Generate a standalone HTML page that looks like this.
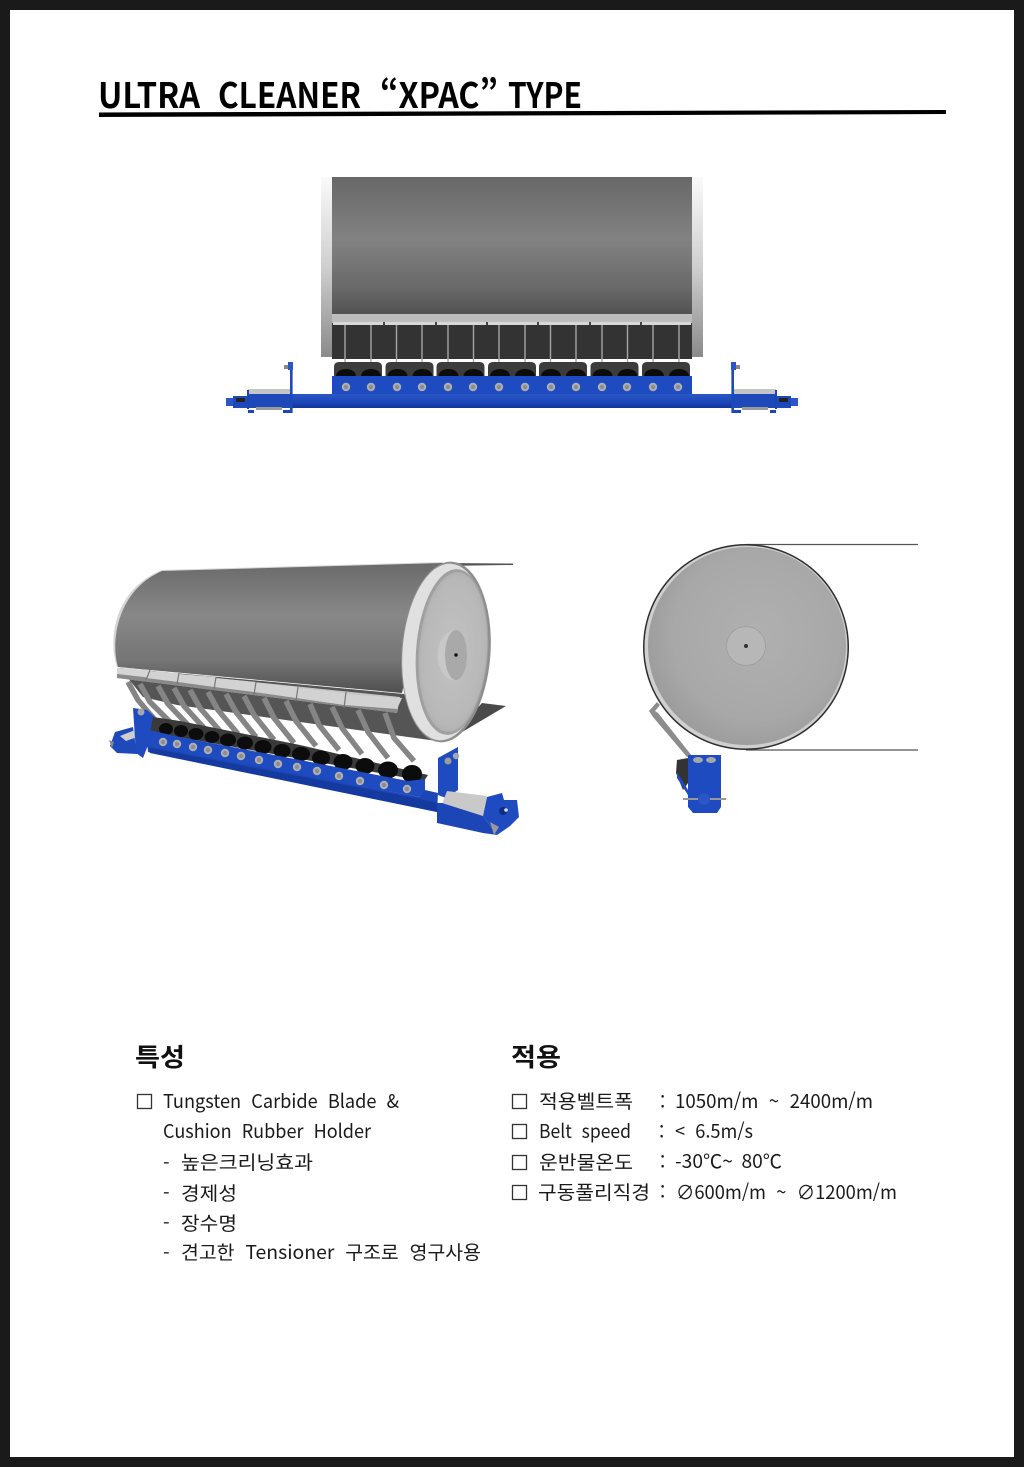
<!DOCTYPE html>
<html lang="ko"><head><meta charset="utf-8"><title>ULTRA CLEANER XPAC TYPE</title>
<style>
html,body{margin:0;padding:0;background:#fff}
svg{display:block}
text{font-family:"Liberation Sans","Noto Sans CJK KR",sans-serif;fill:#111}
.t{font-family:"Noto Sans CJK KR",sans-serif;font-size:35px;font-weight:700;fill:#000}
.k{font-family:"Noto Sans CJK KR","Liberation Sans",sans-serif;font-size:19px;font-weight:400;fill:#1a1a1a}
.h{font-family:"Noto Sans CJK KR",sans-serif;font-size:25px;font-weight:700;fill:#111}
.box{fill:#fff;stroke:#333;stroke-width:1.3}
</style></head><body>
<svg width="1024" height="1467" viewBox="0 0 1024 1467" xmlns="http://www.w3.org/2000/svg">
<defs>
<linearGradient id="dr" x1="0" y1="0" x2="0" y2="1"><stop offset="0" stop-color="#686868"/><stop offset=".45" stop-color="#828282"/><stop offset=".8" stop-color="#686868"/><stop offset="1" stop-color="#505050"/></linearGradient>
<linearGradient id="rim" x1="0" y1="0" x2="0" y2="1"><stop offset="0" stop-color="#fafafa"/><stop offset=".5" stop-color="#cfcfcf"/><stop offset="1" stop-color="#8a8a8a"/></linearGradient>
<linearGradient id="bl" x1="0" y1="0" x2="0" y2="1"><stop offset="0" stop-color="#2a56c8"/><stop offset=".6" stop-color="#1c46b8"/><stop offset="1" stop-color="#12339a"/></linearGradient>
<linearGradient id="dp" x1="0" y1="0" x2="0" y2="1"><stop offset="0" stop-color="#6a6a6a"/><stop offset=".4" stop-color="#888"/><stop offset=".75" stop-color="#757575"/><stop offset="1" stop-color="#4f4f4f"/></linearGradient>
<radialGradient id="fc" cx=".5" cy=".5" r=".6"><stop offset="0" stop-color="#c2c2c2"/><stop offset=".75" stop-color="#b8b8b8"/><stop offset="1" stop-color="#a6a6a6"/></radialGradient>
<radialGradient id="sd" cx=".55" cy=".45" r=".6"><stop offset="0" stop-color="#b0b0b0"/><stop offset=".7" stop-color="#a8a8a8"/><stop offset="1" stop-color="#9a9a9a"/></radialGradient>
<g id="holder">
<path d="M0,377V367q0-5 5-5H43q5,0 5,5V377Z" fill="#3c3c3c"/>
<ellipse cx="12" cy="376" rx="10" ry="7" fill="#0c0c0c"/><ellipse cx="37" cy="376" rx="10" ry="7" fill="#0c0c0c"/>
</g>
<g id="bolt"><circle r="4.200" fill="#adafb2"/><circle r="2.200" fill="#8b8d90"/></g>
<g id="endt">
<rect x="248" y="389" width="42" height="6" fill="#c5c5c5"/>
<rect x="292" y="394" width="45" height="14" fill="url(#bl)"/>
<rect x="247" y="394" width="44" height="14" fill="#1e49bb"/>
<rect x="247" y="390" width="2" height="19" fill="#1c46b8"/>
<rect x="226" y="398" width="8" height="8" fill="#2a56c8"/><rect x="233" y="396" width="14" height="12" fill="#1e49bb"/>
<rect x="236" y="398" width="9" height="4" fill="#222"/>
<rect x="290" y="364" width="2.6" height="49" fill="#1e49bb"/>
<rect x="284" y="365" width="9" height="4" fill="#888"/><rect x="288" y="362" width="5" height="8" fill="#2a56c8"/>
<rect x="256" y="407" width="26" height="3" fill="#999"/>
<path d="M248,410h6v3h-6zM283,410h7v3h-7z" fill="#1c46b8"/>
</g>
</defs>
<rect width="1024" height="1467" fill="#1a1a1a"/>
<rect x="10" y="10" width="1004" height="1447" fill="#fff"/>

<!-- Title -->
<text class="t" x="98" y="108" textLength="102" lengthAdjust="spacingAndGlyphs">ULTRA</text>
<text class="t" x="218" y="108" textLength="143" lengthAdjust="spacingAndGlyphs">CLEANER</text>
<text class="t" x="380" y="108" textLength="118" lengthAdjust="spacingAndGlyphs">“XPAC”</text>
<text class="t" x="508" y="108" textLength="74" lengthAdjust="spacingAndGlyphs">TYPE</text>
<path d="M99,112.500L946,110V114L99,117Z" fill="#000"/>

<!-- Front view -->
<rect x="321" y="177" width="11" height="180" fill="url(#rim)"/>
<rect x="692" y="177" width="11" height="180" fill="url(#rim)"/>
<rect x="332" y="177" width="360" height="140" fill="url(#dr)"/>
<rect x="332" y="322" width="360" height="37" fill="#333"/>
<rect x="332" y="314" width="360" height="9" fill="#bdbdbd"/>
<rect x="333" y="322" width="358" height="3" fill="#d8d8d8"/>
<g fill="#444"><rect x="383" y="322" width="2" height="3"/><rect x="435" y="322" width="2" height="3"/><rect x="486" y="322" width="2" height="3"/><rect x="537" y="322" width="2" height="3"/><rect x="589" y="322" width="2" height="3"/><rect x="640" y="322" width="2" height="3"/></g>
<g stroke="#a5a5a5" stroke-width="1.4">
<path d="M345,325V362M371,325V362M396.500,325V362M422,325V362M448,325V362M473.500,325V362M499,325V362M525,325V362M550.500,325V362M576,325V362M602,325V362M627.500,325V362M653,325V362M679,325V362"/>
</g>
<use href="#holder" x="334"/><use href="#holder" x="385.500"/><use href="#holder" x="436.500"/><use href="#holder" x="488"/><use href="#holder" x="539"/><use href="#holder" x="590.500"/><use href="#holder" x="642"/>
<use href="#endt"/><use href="#endt" transform="translate(1024,0) scale(-1,1)"/>
<rect x="332" y="376" width="360" height="21" fill="#1f4bc0"/>
<rect x="332" y="394" width="360" height="14" fill="url(#bl)"/>
<use href="#bolt" x="346" y="387"/><use href="#bolt" x="371" y="387"/><use href="#bolt" x="397" y="387"/><use href="#bolt" x="422" y="387"/><use href="#bolt" x="448" y="387"/><use href="#bolt" x="473" y="387"/><use href="#bolt" x="499" y="387"/><use href="#bolt" x="525" y="387"/><use href="#bolt" x="551" y="387"/><use href="#bolt" x="576" y="387"/><use href="#bolt" x="602" y="387"/><use href="#bolt" x="627" y="387"/><use href="#bolt" x="653" y="387"/><use href="#bolt" x="678" y="387"/>

<!-- Perspective view: sheet behind -->
<path d="M443,563L513,563.500V565L440,566Z" fill="#555"/>
<path d="M482,703L506,706L447,741Z" fill="#4a4a4a"/>
<!-- Drum -->
<path d="M162,570L443,562L430,600L402,693L117,667C108,640 113,590 162,570Z" fill="#d5d5d5"/>
<path d="M162,571L443,563L420,600L402,693L118,667C110,640 118,590 162,571Z" fill="url(#dp)"/>
<path d="M120,668L404,694L437,741L177,705L143,697Z" fill="#555"/>
<ellipse cx="446" cy="652" rx="44.500" ry="90.500" transform="rotate(4 446 652)" fill="#8e8e8e"/>
<ellipse cx="445" cy="652" rx="42.500" ry="88.500" transform="rotate(4 445 652)" fill="#e0e0e0"/>
<ellipse cx="452" cy="652" rx="36" ry="83" transform="rotate(4 452 652)" fill="#a0a0a0"/>
<ellipse cx="453" cy="652" rx="34" ry="80" transform="rotate(4 453 652)" fill="url(#fc)"/>
<path d="M456,630C443,631 436,645 438,660C440,673 447,681 456,680Z" fill="#c8c8c8"/>
<ellipse cx="456" cy="655" rx="11" ry="25" fill="#a9a9a9"/>
<circle cx="456" cy="655" r="1.700" fill="#111"/>

<!-- Arms -->
<g fill="none" stroke="#858585" stroke-width="5.500" stroke-linejoin="round">
<path d="M128,682L138,700L155,720"/><path d="M140,684L150,702L170,722"/>
<path d="M158,686L168,704L188,725"/><path d="M174,688L184,706L204,728"/>
<path d="M190,690L200,708L220,731"/><path d="M208,692L218,710L238,734"/>
<path d="M226,694L236,712L256,737"/><path d="M244,696L254,715L274,740"/>
<path d="M264,698L274,718L294,743"/><path d="M286,701L296,721L316,746"/>
<path d="M310,704L319,725L339,750"/><path d="M332,707L342,728L362,754"/>
<path d="M358,710L368,732L388,758"/><path d="M385,713L394,738L414,761"/>
</g>
<!-- Blade strip -->
<path d="M117,668L400,697L397,713L117,678Z" fill="#c5c5c5"/>
<path d="M117,668L150,670L147,677L117,674Z" fill="#d5d5d5"/>
<path d="M117,674L397,707V713L117,678Z" fill="#8a8a8a"/>
<path d="M150,671L179,673L178,682L146,678Z M179,674L216,677L214,687L178,682Z M216,678L256,682L254,692L214,687Z M256,683L298,687L296,698L254,692Z M298,688L346,693L344,705L296,698Z M346,694L402,698L397,709L344,705Z" fill="#d2d2d2"/>
<g stroke="#777" stroke-width="1.200"><path d="M150,670L146,680M179,673L177,684M216,677L214,690M256,682L254,695M298,687L296,701M346,692L344,708"/></g>

<!-- Blue bar -->
<path d="M115,732L133,727L137,754L117,753L110,746Z" fill="#1e49bb"/>
<path d="M120,736L135,730L137,737L126,741Z" fill="#cfcfcf"/>
<path d="M109,740L114,742L112,748Z" fill="#888"/>
<path d="M133,708L147,710L155,717L150,740L143,758L136,753Z" fill="#1f4bc0"/>
<circle cx="141" cy="712" r="3.500" fill="#a5a7aa"/>
<path d="M153,717L180,721L300,745L428,775L424,781L150,732Z" fill="#3a3a3a"/>
<g fill="#0c0c0c"><ellipse cx="166" cy="729" rx="7" ry="6"/><ellipse cx="181" cy="731" rx="7" ry="6"/><ellipse cx="196" cy="734" rx="7.500" ry="6"/><ellipse cx="212" cy="737" rx="7.500" ry="6"/><ellipse cx="228" cy="740" rx="8" ry="6.500"/><ellipse cx="245" cy="743" rx="8" ry="6.500"/><ellipse cx="263" cy="747" rx="8.500" ry="7"/><ellipse cx="282" cy="751" rx="8.500" ry="7"/><ellipse cx="301" cy="754" rx="9" ry="7"/><ellipse cx="321" cy="758" rx="9" ry="7.500"/><ellipse cx="343" cy="762" rx="9.500" ry="8"/><ellipse cx="365" cy="766" rx="9.500" ry="8"/><ellipse cx="388" cy="770" rx="10" ry="8.500"/><ellipse cx="412" cy="774" rx="10" ry="9"/></g>
<path d="M149,730L180,737L300,760L408,781L425,779L425,792L420,797L147,747Z" fill="#1f4bc0"/>
<path d="M147,741L148,752L437,812L438,793L425,790L420,797L147,746Z" fill="#1c46b5"/>
<path d="M150,748L420,799L437,803V812L150,753Z" fill="#153a9f"/>
<use href="#bolt" x="163" y="742"/><use href="#bolt" x="177" y="744"/><use href="#bolt" x="193" y="747"/><use href="#bolt" x="208" y="750"/><use href="#bolt" x="225" y="753"/><use href="#bolt" x="241" y="756"/><use href="#bolt" x="259" y="760"/><use href="#bolt" x="278" y="764"/><use href="#bolt" x="297" y="767"/><use href="#bolt" x="317" y="771"/><use href="#bolt" x="339" y="776"/><use href="#bolt" x="360" y="781"/><use href="#bolt" x="384" y="785"/><use href="#bolt" x="407" y="789"/>
<!-- Right end -->
<path d="M438,758L458,747L458,790L446,798L438,795Z" fill="#1f4bc0"/>
<circle cx="448" cy="761" r="3.500" fill="#9a9c9f"/><circle cx="456" cy="756" r="3.200" fill="#a5a7aa"/>
<path d="M447,791L487,796L483,816L442,804Z" fill="#c9c9c9"/>
<path d="M437,803L442,803L483,816L497,835L483,833L437,823Z" fill="#1c46b5"/>
<path d="M487,797L502,793L504,800L517,800L519,817L510,826L497,835L483,816Z" fill="#1f4bc0"/>
<circle cx="503" cy="811" r="4" fill="#0f2c88"/><circle cx="506" cy="810" r="1.800" fill="#ddd"/>
<path d="M490,822L499,827L494,835Z" fill="#999"/>

<!-- Side view -->
<line x1="746" y1="544.500" x2="918" y2="544.500" stroke="#555" stroke-width="1.200"/>
<line x1="746" y1="750" x2="918" y2="750" stroke="#555" stroke-width="1.200"/>
<circle cx="746" cy="647" r="103" fill="#2e2e2e"/>
<circle cx="746" cy="647" r="101.500" fill="#cfcfcf"/>
<circle cx="747" cy="646" r="99" fill="url(#sd)"/>
<circle cx="746" cy="646" r="19.500" fill="#b7b7b7" stroke="#9c9c9c" stroke-width=".8"/>
<circle cx="746" cy="646" r="2" fill="#333"/>
<path d="M657,702L649,711L653,717L687,757L692,756L658,713L655,711L660,705Z" fill="#8c8c8c"/>
<path d="M677,760L688,758V783L683,790L676,773Z" fill="#333"/>
<path d="M677,772L688,790V795L677,778Z" fill="#1f4bc0"/>
<path d="M688,755H721V807L717,813H693L688,807Z" fill="#1f4bc0"/>
<ellipse cx="698" cy="760" rx="5" ry="3" fill="#a5a7aa"/><ellipse cx="711" cy="760" rx="5" ry="3" fill="#a5a7aa"/>
<rect x="683" y="798" width="43" height="2" fill="#999"/><circle cx="704" cy="799" r="6" fill="#2a56c8"/>
</svg>
<svg width="1024" height="1467" viewBox="0 0 1024 1467" xmlns="http://www.w3.org/2000/svg" style="position:absolute;left:0;top:0">
<text class="h" x="135" y="1066" textLength="50" lengthAdjust="spacingAndGlyphs">특성</text>
<text class="h" x="511" y="1066" textLength="50" lengthAdjust="spacingAndGlyphs">적용</text>
<rect class="box" x="137.500" y="1094.500" width="14" height="14"/>
<text class="k" x="163" y="1108" textLength="236" lengthAdjust="spacingAndGlyphs" xml:space="preserve">Tungsten  Carbide  Blade  &amp;</text>
<text class="k" x="163" y="1138" textLength="208" lengthAdjust="spacingAndGlyphs" xml:space="preserve">Cushion  Rubber  Holder</text>
<text class="k" x="163" y="1170">-</text><text class="k" x="181" y="1169" textLength="132" lengthAdjust="spacingAndGlyphs">높은크리닝효과</text>
<text class="k" x="163" y="1200">-</text><text class="k" x="181" y="1200" textLength="56" lengthAdjust="spacingAndGlyphs">경제성</text>
<text class="k" x="163" y="1230">-</text><text class="k" x="181" y="1230" textLength="56" lengthAdjust="spacingAndGlyphs">장수명</text>
<text class="k" x="163" y="1260">-</text><text class="k" x="181" y="1259" textLength="300" lengthAdjust="spacingAndGlyphs" xml:space="preserve">견고한  Tensioner  구조로  영구사용</text>
<rect class="box" x="512.500" y="1094.500" width="14" height="14"/>
<rect class="box" x="512.500" y="1124.500" width="14" height="14"/>
<rect class="box" x="512.500" y="1155.500" width="14" height="14"/>
<rect class="box" x="512.500" y="1185.500" width="14" height="14"/>
<text class="k" x="539" y="1108" textLength="94" lengthAdjust="spacingAndGlyphs">적용벨트폭</text>
<text class="k" x="660" y="1109">:</text>
<text class="k" x="675" y="1108" textLength="198" lengthAdjust="spacingAndGlyphs" xml:space="preserve">1050m/m  ~  2400m/m</text>
<text class="k" x="539" y="1138" textLength="92" lengthAdjust="spacingAndGlyphs" xml:space="preserve">Belt  speed</text>
<text class="k" x="659" y="1139">:</text>
<text class="k" x="675" y="1138" textLength="78" lengthAdjust="spacingAndGlyphs" xml:space="preserve">&lt;  6.5m/s</text>
<text class="k" x="539" y="1169" textLength="94" lengthAdjust="spacingAndGlyphs">운반물온도</text>
<text class="k" x="660" y="1169">:</text>
<text class="k" x="675" y="1168" textLength="107" lengthAdjust="spacingAndGlyphs" xml:space="preserve">-30℃~  80℃</text>
<text class="k" x="538" y="1199" textLength="112" lengthAdjust="spacingAndGlyphs">구동풀리직경</text>
<text class="k" x="660" y="1199">:</text>
<text class="k" x="676" y="1199" textLength="221" lengthAdjust="spacingAndGlyphs" xml:space="preserve">∅600m/m  ~  ∅1200m/m</text>
</svg>
</body></html>
